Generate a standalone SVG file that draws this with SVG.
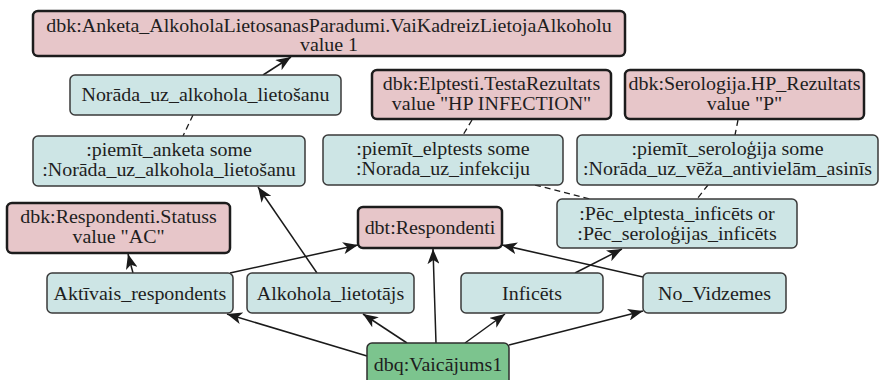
<svg xmlns="http://www.w3.org/2000/svg" width="881" height="380" viewBox="0 0 881 380">
<style>
.pink rect{fill:#e7c6c9;stroke:#1c1c1c;stroke-width:2.5}
.cyan rect{fill:#cde5e5;stroke:#3a3a3a;stroke-width:1.5}
.green rect{fill:#7cc48e;stroke:#2e2e2e;stroke-width:1.5}
text{font-family:"Liberation Serif","Times New Roman",serif;font-size:19px;fill:#1e1e1e;text-anchor:middle}
.c line{stroke:#1a1a1a;stroke-width:1.5;fill:none}
.c line.d{stroke-dasharray:6 4;stroke-width:1.3}
</style>
<defs>
<marker id="ah" markerUnits="userSpaceOnUse" markerWidth="16" markerHeight="12" refX="15" refY="6" orient="auto"><path d="M0,0 L15,6 L0,12 L4,6 z" fill="#1a1a1a"/></marker>
</defs>
<rect width="881" height="380" fill="#ffffff"/>

<g class="c" id="connectors">
<line x1="263" y1="75" x2="291" y2="57" marker-end="url(#ah)"/>
<line x1="317" y1="273" x2="258" y2="187" marker-end="url(#ah)"/>
<line x1="133" y1="273" x2="128" y2="254" marker-end="url(#ah)"/>
<line x1="230" y1="273" x2="358" y2="245" marker-end="url(#ah)"/>
<line x1="643" y1="277" x2="502" y2="245" marker-end="url(#ah)"/>
<line x1="575" y1="273" x2="622" y2="249" marker-end="url(#ah)"/>
<line x1="367" y1="356" x2="227" y2="314" marker-end="url(#ah)"/>
<line x1="407" y1="343" x2="363" y2="314" marker-end="url(#ah)"/>
<line x1="436" y1="343" x2="433" y2="249" marker-end="url(#ah)"/>
<line x1="465" y1="343" x2="505" y2="314" marker-end="url(#ah)"/>
<line x1="509" y1="345" x2="643" y2="311" marker-end="url(#ah)"/>
<line class="d" x1="193" y1="115" x2="183" y2="136"/>
<line class="d" x1="472" y1="120" x2="463" y2="135"/>
<line class="d" x1="738" y1="120" x2="735" y2="135"/>
<line class="d" x1="535" y1="185" x2="590" y2="199"/>
<line class="d" x1="708" y1="185" x2="697" y2="199"/>
</g>

<g id="n_anketa_value" class="pink">
<rect x="33" y="11" width="592" height="45" rx="5"/>
<text transform="translate(329 0) scale(1.05 1)"><tspan x="0" y="32">dbk:Anketa_AlkoholaLietosanasParadumi.VaiKadreizLietojaAlkoholu</tspan><tspan x="0" y="51">value 1</tspan></text>
</g>
<g id="n_norada_alk" class="cyan">
<rect x="70" y="75" width="271" height="40" rx="5"/>
<text transform="translate(205.5 0) scale(1.05 1)" x="0" y="101">Norāda_uz_alkohola_lietošanu</text>
</g>
<g id="n_elptesti_value" class="pink">
<rect x="372" y="70" width="239" height="49" rx="5"/>
<text transform="translate(491.5 0) scale(1.05 1)"><tspan x="0" y="90">dbk:Elptesti.TestaRezultats</tspan><tspan x="0" y="110">value "HP INFECTION"</tspan></text>
</g>
<g id="n_serologija_value" class="pink">
<rect x="625" y="70" width="239" height="49" rx="5"/>
<text transform="translate(744.5 0) scale(1.05 1)"><tspan x="0" y="90">dbk:Serologija.HP_Rezultats</tspan><tspan x="0" y="110">value "P"</tspan></text>
</g>
<g id="n_piemit_anketa" class="cyan">
<rect x="33" y="136" width="272" height="50" rx="5"/>
<text transform="translate(169 0) scale(1.05 1)"><tspan x="0" y="156">:piemīt_anketa some</tspan><tspan x="0" y="176">:Norāda_uz_alkohola_lietošanu</tspan></text>
</g>
<g id="n_piemit_elptests" class="cyan">
<rect x="323" y="135" width="240" height="50" rx="5"/>
<text transform="translate(443 0) scale(1.05 1)"><tspan x="0" y="155">:piemīt_elptests some</tspan><tspan x="0" y="175">:Norada_uz_infekciju</tspan></text>
</g>
<g id="n_piemit_serologija" class="cyan">
<rect x="577" y="135" width="301" height="50" rx="5"/>
<text transform="translate(727.5 0) scale(1.05 1)"><tspan x="0" y="155">:piemīt_seroloģija some</tspan><tspan x="0" y="175">:Norāda_uz_vēža_antivielām_asinīs</tspan></text>
</g>
<g id="n_statuss_value" class="pink">
<rect x="7" y="203" width="223" height="50" rx="5"/>
<text transform="translate(118.5 0) scale(1.05 1)"><tspan x="0" y="223">dbk:Respondenti.Statuss</tspan><tspan x="0" y="243">value "AC"</tspan></text>
</g>
<g id="n_respondenti" class="pink">
<rect x="358" y="207" width="144" height="41" rx="5"/>
<text transform="translate(430 0) scale(1.05 1)" x="0" y="234">dbt:Respondenti</text>
</g>
<g id="n_pec" class="cyan">
<rect x="557" y="199" width="240" height="49" rx="5"/>
<text transform="translate(677 0) scale(1.05 1)"><tspan x="0" y="220">:Pēc_elptesta_inficēts or</tspan><tspan x="0" y="240">:Pēc_seroloģijas_inficēts</tspan></text>
</g>
<g id="n_aktivais" class="cyan">
<rect x="47" y="273" width="186" height="40" rx="5"/>
<text transform="translate(140 0) scale(1.05 1)" x="0" y="300">Aktīvais_respondents</text>
</g>
<g id="n_alkohola_lietotajs" class="cyan">
<rect x="247" y="273" width="167" height="40" rx="5"/>
<text transform="translate(330.5 0) scale(1.05 1)" x="0" y="300">Alkohola_lietotājs</text>
</g>
<g id="n_inficets" class="cyan">
<rect x="461" y="273" width="142" height="40" rx="5"/>
<text transform="translate(532 0) scale(1.05 1)" x="0" y="300">Inficēts</text>
</g>
<g id="n_no_vidzemes" class="cyan">
<rect x="643" y="273" width="143" height="40" rx="5"/>
<text transform="translate(714.5 0) scale(1.05 1)" x="0" y="300">No_Vidzemes</text>
</g>
<g id="n_vaicajums1" class="green">
<rect x="367" y="343" width="142" height="45" rx="5"/>
<text transform="translate(438 0) scale(1.05 1)" x="0" y="371">dbq:Vaicājums1</text>
</g>
</svg>
